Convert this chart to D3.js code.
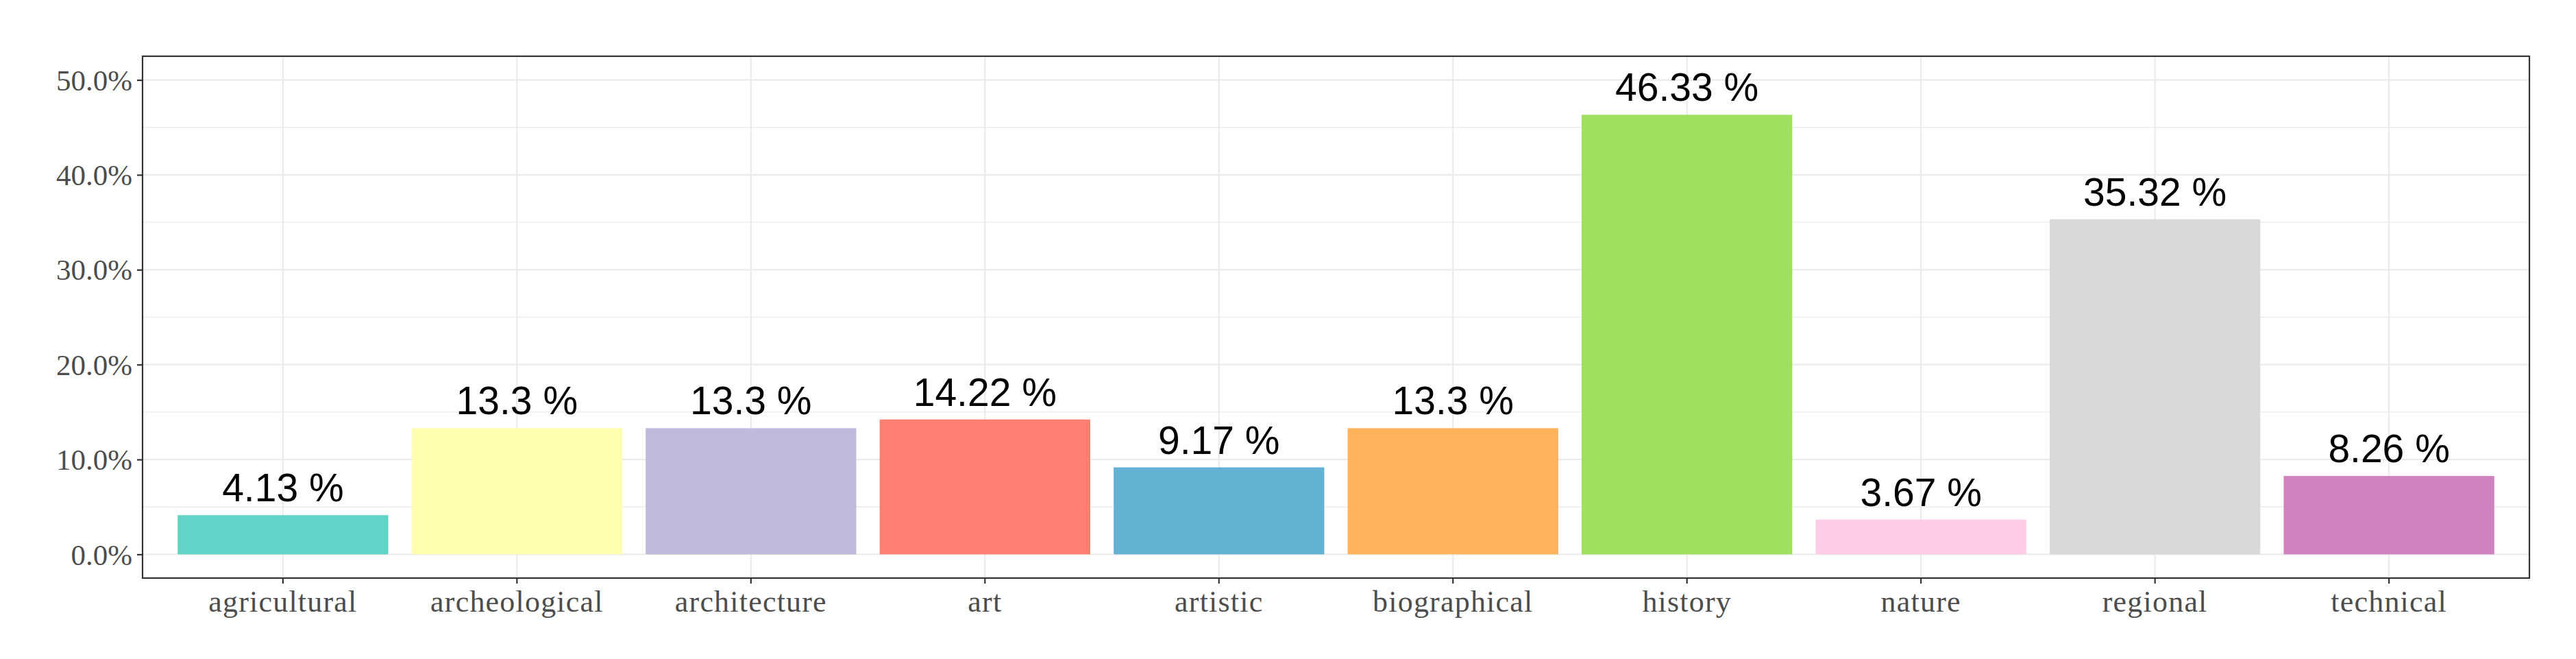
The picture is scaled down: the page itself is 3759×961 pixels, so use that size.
<!DOCTYPE html>
<html>
<head>
<meta charset="utf-8">
<script src="https://cdn.jsdelivr.net/npm/d3@7"></script>
<style>
  body { margin: 0; background: #fff; }
  svg { display: block; }
</style>
</head>
<body>
<script>
//CANVAS
var svg_width = 3759;
var svg_height = 961;

//DATA
var categories = ["agricultural", "archeological", "architecture", "art", "artistic",
                  "biographical", "history", "nature", "regional", "technical"];
var shares = [4.13, 13.3, 13.3, 14.22, 9.17, 13.3, 46.33, 3.67, 35.32, 8.26];
var barColors = ["#61D4C8", "#FFFFB0", "#C0BBDB", "#FF8073", "#63B1D3",
                 "#FDB35C", "#A0E060", "#FDCCE6", "#D9D9D9", "#CF80BF"];
var yTicks = [0, 10, 20, 30, 40, 50];
var yMinorTicks = [5, 15, 25, 35, 45];

//PANEL
var panel = {left: 208, top: 82, right: 3691, bottom: 843};

var svg = d3.select("body")
  .append("svg")
  .attr("width", svg_width)
  .attr("height", svg_height);

// ggplot style: 0.6 unit expansion on a discrete axis, bars 0.9 wide
var x = d3.scaleBand()
  .domain(categories)
  .range([panel.left, panel.right])
  .paddingInner(0.1)
  .paddingOuter(0.15);

// limits 0..50 with 5% expansion
var y = d3.scaleLinear()
  .domain([-2.5, 52.5])
  .range([panel.bottom, panel.top]);

var data = categories.map(function(c, i) {
  return {cat: c, val: shares[i], color: barColors[i]};
});

// grid
var grid = svg.append("g");
grid.selectAll("line.minor").data(yMinorTicks).enter().append("line")
  .attr("class", "minor")
  .attr("x1", panel.left).attr("x2", panel.right)
  .attr("y1", function(d) { return y(d); })
  .attr("y2", function(d) { return y(d); })
  .attr("stroke", "#EBEBEB").attr("stroke-width", 1.3);

grid.selectAll("line.major").data(yTicks).enter().append("line")
  .attr("class", "major")
  .attr("x1", panel.left).attr("x2", panel.right)
  .attr("y1", function(d) { return y(d); })
  .attr("y2", function(d) { return y(d); })
  .attr("stroke", "#EBEBEB").attr("stroke-width", 2.2);

grid.selectAll("line.vert").data(categories).enter().append("line")
  .attr("class", "vert")
  .attr("x1", function(d) { return x(d) + x.bandwidth() / 2; })
  .attr("x2", function(d) { return x(d) + x.bandwidth() / 2; })
  .attr("y1", panel.top).attr("y2", panel.bottom)
  .attr("stroke", "#EBEBEB").attr("stroke-width", 2.2);

// bars
svg.selectAll("rect.bar").data(data).enter().append("rect")
  .attr("class", "bar")
  .attr("x", function(d) { return x(d.cat); })
  .attr("width", x.bandwidth())
  .attr("y", function(d) { return y(d.val); })
  .attr("height", function(d) { return y(0) - y(d.val); })
  .attr("fill", function(d) { return d.color; });

// value labels
svg.selectAll("text.val").data(data).enter().append("text")
  .attr("class", "val")
  .attr("x", function(d) { return x(d.cat) + x.bandwidth() / 2; })
  .attr("y", function(d) { return y(d.val) - 20; })
  .attr("text-anchor", "middle")
  .attr("font-family", "Liberation Sans, Arial, sans-serif")
  .attr("font-size", 57)
  .attr("fill", "#000")
  .text(function(d) { return d.val + " %"; });

// axes
var yAxis = svg.append("g")
  .attr("transform", "translate(" + panel.left + ",0)")
  .call(d3.axisLeft(y).tickValues(yTicks)
    .tickFormat(function(d) { return d3.format(".1f")(d) + "%"; })
    .tickSize(8).tickPadding(7));

var xAxis = svg.append("g")
  .attr("transform", "translate(0," + panel.bottom + ")")
  .call(d3.axisBottom(x).tickSize(8).tickPadding(10));

[yAxis, xAxis].forEach(function(a) {
  a.select(".domain").remove();
  a.selectAll(".tick line").attr("stroke", "#333333").attr("stroke-width", 2.2);
  a.selectAll(".tick text")
    .attr("font-family", "Liberation Serif, Times New Roman, serif")
    .attr("font-size", 43)
    .attr("fill", "#4D4D4D");
});
yAxis.selectAll(".tick text").attr("dy", "0.34em");
// the original serif runs a little wider
xAxis.selectAll(".tick text").attr("font-size", 44).attr("letter-spacing", 1.2);

// panel border
svg.append("rect")
  .attr("x", panel.left).attr("y", panel.top)
  .attr("width", panel.right - panel.left)
  .attr("height", panel.bottom - panel.top)
  .attr("fill", "none")
  .attr("stroke", "#333333")
  .attr("stroke-width", 2.2);
</script>
</body>
</html>
